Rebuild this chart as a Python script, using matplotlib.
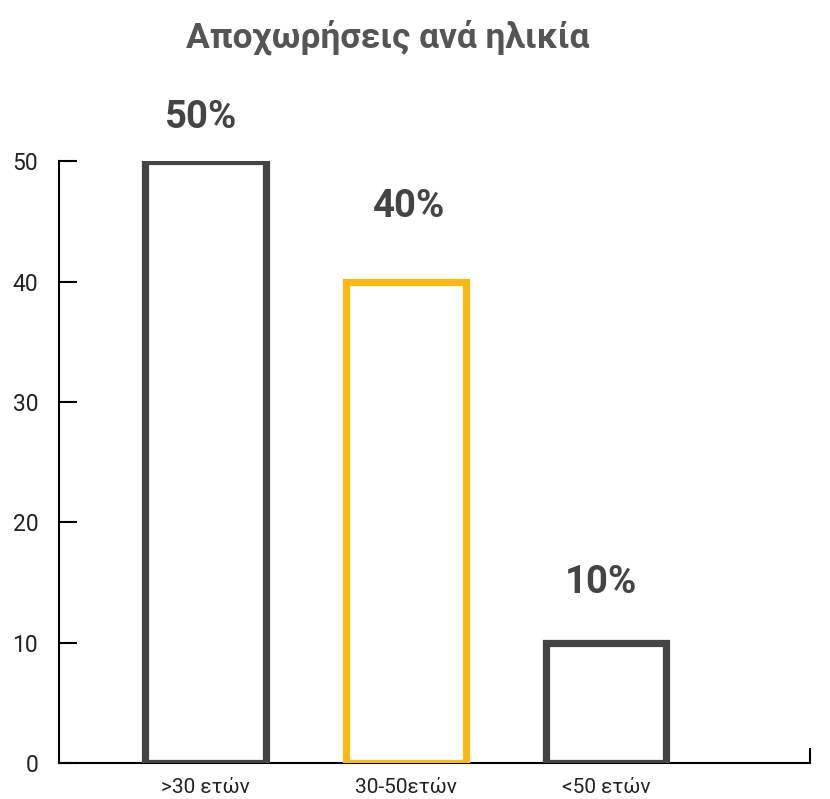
import matplotlib.pyplot as plt
import numpy as np

categories = ['>30 ετών', '30-50ετών', '<50 ετών']
values = [50, 40, 10]
value_labels = ['50%', '40%', '10%']
edge_colors = ['#444444', '#FDB913', '#444444']
yticks = [0, 10, 20, 30, 40, 50]

# label offsets from each bar top, in points
label_dx = [-3, 2.5, -3.5]
label_dy = [32, 54, 43]

plt.rcParams['font.family'] = ['Roboto', 'DejaVu Sans']

fig = plt.figure(figsize=(8.3, 7.99), dpi=100)
ax = fig.add_axes([59 / 830, 1 - 763 / 799, (810 - 59) / 830, (763 - 161.5) / 799])

x = np.arange(len(categories))
ax.bar(x, values, width=0.6, facecolor='white', edgecolor=edge_colors, linewidth=5.2, zorder=3)

for xi, v, lab, dx, dy in zip(x, values, value_labels, label_dx, label_dy):
    ax.annotate(lab, (xi, v), xytext=(dx, dy), textcoords='offset points',
                ha='center', va='center', fontsize=27.5, fontweight='bold',
                color='#444444', annotation_clip=False)

ax.set_xlim(-0.732, 3.02)
ax.set_ylim(0, 50)

for s in ['top', 'right']:
    ax.spines[s].set_visible(False)
for s in ['left', 'bottom']:
    ax.spines[s].set_linewidth(1.5)
    ax.spines[s].set_color('black')

ax.set_yticks(yticks)
ax.tick_params(axis='y', direction='in', length=13, width=1.5, pad=15,
               labelsize=16.5, labelcolor='#222222')
ax.set_xticks(x)
ax.set_xticklabels(categories)
ax.tick_params(axis='x', length=0, pad=11, labelsize=15, labelcolor='#222222')
ax.set_xticks([3.02], minor=True)
ax.tick_params(axis='x', which='minor', direction='in', length=11, width=1.5)

fig.text(388 / 830, 1 - 37 / 799, 'Αποχωρήσεις ανά ηλικία', ha='center', va='center',
         fontsize=25.5, fontweight='bold', color='#555555')

plt.savefig('out.png', dpi=100)
